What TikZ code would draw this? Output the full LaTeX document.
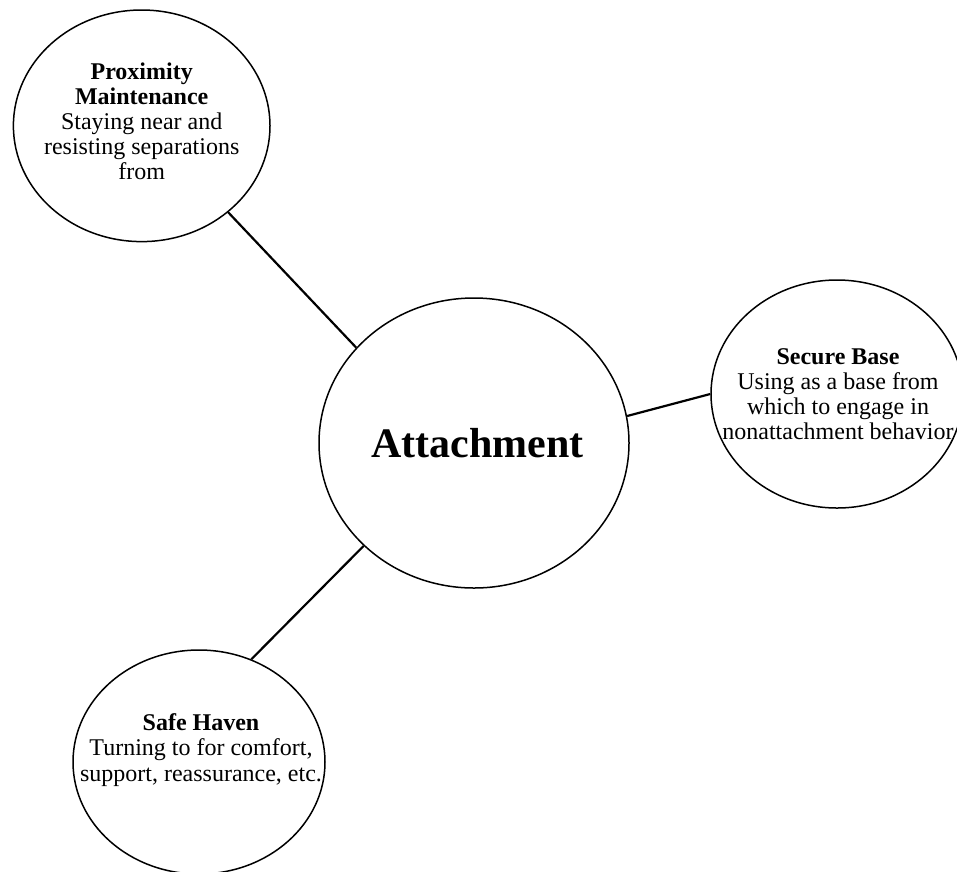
\documentclass[tikz,border=0pt]{standalone}
\usepackage{fontspec}
\setmainfont{Liberation Serif}
\usetikzlibrary{shapes.geometric}
\begin{document}
\begin{tikzpicture}[x=1pt,y=-1pt,
  bubble/.style={draw, ellipse, inner sep=0pt, line width=1.5pt},
  link/.style={line width=2.2pt},
  txt/.style={align=center, inner sep=0pt, anchor=north, font=\fontsize{24}{24.8}\selectfont}]
\useasboundingbox (0,0) rectangle (957,871);
% bubbles
\node[bubble, minimum width=256.6pt, minimum height=231.6pt] (prox) at (141.7,125.8) {};
\node[bubble, minimum width=310pt, minimum height=290pt] (att) at (474,443) {};
\node[bubble, minimum width=252pt, minimum height=228pt] (base) at (837,394) {};
\node[bubble, minimum width=252pt, minimum height=224pt] (haven) at (199,762) {};
% texts
\node[txt] (proxt) at (141.7,63) {\textbf{Proximity}\\\textbf{Maintenance}\\Staying near and\\resisting separations\\from};
\node[txt, font=\fontsize{24}{25}\selectfont] (baset) at (838,348) {\textbf{Secure Base}\\Using as a base from\\which to engage in\\nonattachment behavior};
\node[txt, font=\fontsize{24}{25.5}\selectfont] (havent) at (201,713) {\textbf{Safe Haven}\\Turning to for comfort,\\support, reassurance, etc.};
\node[inner sep=0pt, anchor=base, font=\fontsize{42}{46}\selectfont\bfseries] (attt) at (477.5,457) {Attachment};
% connectors
\draw[link] (prox.-45.6) -- (att.141.2);
\draw[link] (att.223.4) -- (haven.63.6);
\draw[link] (att.10.3) -- (base.180);
\end{tikzpicture}
\end{document}
